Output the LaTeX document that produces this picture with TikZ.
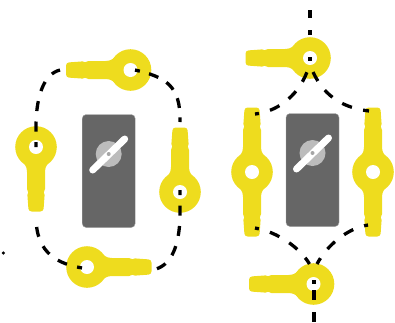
\documentclass[tikz,border=0pt]{standalone}
\usepackage{xcolor}
\usetikzlibrary{calc}
\definecolor{keyyellow}{HTML}{EEDC1E}
\definecolor{panelgray}{HTML}{666666}
\definecolor{discgray}{HTML}{BCBCBC}

\begin{document}
\begin{tikzpicture}[
    x=1pt, y=-1pt,
    wire/.style={line width=3.3pt, black, dash pattern=on 10pt off 10.5pt, dash phase=5pt},
    panel/.style={rectangle, draw=gray!70, fill=panelgray, rounded corners=4pt, minimum width=53pt, minimum height=113pt, inner sep=0pt},
    disc/.style={circle, fill=discgray, minimum size=26pt, inner sep=0pt},
    hub/.style={circle, fill=gray!70, minimum size=4pt, inner sep=0pt},
    lever/.style={line width=7pt, white, line cap=round},
    stem/.pic={
        \fill[keyyellow] (15,-13) .. controls (20,-9.5) .. (25,-9) -- (42,-9) -- (45.5,-7.8) -- (48,-8.6) [rounded corners=3pt] -- (64.5,-7.4) -- (64.5,7.4) [sharp corners] -- (48,8.6) -- (45.5,7.8) -- (42,9) -- (25,9) .. controls (20,9.5) .. (15,13) -- cycle;
    },
    ring/.pic={
        \fill[keyyellow] (0,0) circle (20.8);
        \fill[white] (0,0) circle (7);
        \coordinate (-hole) at (0,0);
    },
    valve/.pic={
        \node[panel] (-body) at (0,17) {};
        \node[disc] (-disc) at (0,0) {};
        \coordinate (-a) at (-16,16);
        \coordinate (-b) at (16,-15);
        \draw[lever] (-a) -- (-b);
        \node[hub] (-hub) at (0,0) {};
    },
]

\useasboundingbox (0,0) rectangle (395,322);

% Left valve
\pic (vl) at (108.7,154) {valve};
\pic (kt) at (130.5,70) [rotate=180] {stem};
\pic (kt) at (130.5,70) {ring};
\pic (kr) at (180,192) [rotate=90] {stem};
\pic (kr) at (180,192) {ring};
\pic (kb) at (87,267) {stem};
\pic (kb) at (87,267) {ring};
\pic (kl) at (36,147) [rotate=-90] {stem};
\pic (kl) at (36,147) {ring};

% Left loop wires
\coordinate (ktend) at (60,70);
\coordinate (krend) at (180,122);
\coordinate (kbend) at (156,269);
\coordinate (klend) at (36,217);
\draw[wire, dash pattern=on 10pt off 9.5pt] ($(kt-hole)+(4.5,0)$) .. controls (165,77) and (181,85) .. (krend);
\draw[wire] ($(kr-hole)+(0,-2)$) -- (180,218) .. controls (179,245) and (172,264) .. (kbend);
\draw[wire] ($(kb-hole)+(-5,1)$) .. controls (60,264) and (36,255) .. (klend);
\draw[wire] (kl-hole) -- (36,122) .. controls (37,95) and (44,74) .. (ktend);
\node[circle, fill=black, inner sep=0pt, minimum size=3.5pt] (stray) at (3.3,253) {};

% Right valve
\pic (vr) at (312.5,153) {valve};
\pic (tt) at (310,58) [rotate=180] {stem};
\pic (tt) at (310,58) {ring};
\pic (bb) at (313.5,284) [rotate=180] {stem};
\pic (bb) at (313.5,284) {ring};
\foreach \n/\x in {ml/252, mr/373} {
    \pic (\n) at (\x,172) [rotate=90] {stem};
    \pic (\n d) at (\x,172) [rotate=-90] {stem};
    \pic (\n) at (\x,172) {ring};
}

% Right wires
\coordinate (inlet) at (310,10);
\coordinate (outlet) at (314,322);
\coordinate (ttl) at (307,72);
\coordinate (ttr) at (313,72);
\coordinate (bbl) at (309.5,264);
\coordinate (bbr) at (317,264);
\coordinate (mlu) at (255,114);
\coordinate (mld) at (255,228);
\coordinate (mru) at (369,111);
\coordinate (mrd) at (368,225);
\draw[wire, dash pattern=on 8pt off 12pt on 5pt off 22pt on 4pt, dash phase=0pt] (inlet) -- ($(tt-hole)+(0,3)$);
\draw[wire, dash pattern=on 4pt off 6pt on 10pt off 12pt on 10pt, dash phase=0pt] ($(bb-hole)+(0.5,-4)$) -- (outlet);
\draw[wire, dash pattern=on 10.5pt off 11.5pt, dash phase=6.5pt] (mlu) .. controls (275,112) and (297,98) .. (ttl);
\draw[wire, dash pattern=on 10.5pt off 11.5pt, dash phase=4.5pt] (mru) .. controls (345,108) and (325,98) .. (ttr);
\draw[wire, dash pattern=on 10.5pt off 11.5pt, dash phase=6.5pt] (mld) .. controls (278,232) and (300,248) .. (bbl);
\draw[wire, dash pattern=on 10.5pt off 11.5pt, dash phase=6.5pt] (mrd) .. controls (348,228) and (327,245) .. (bbr);

\end{tikzpicture}
\end{document}
